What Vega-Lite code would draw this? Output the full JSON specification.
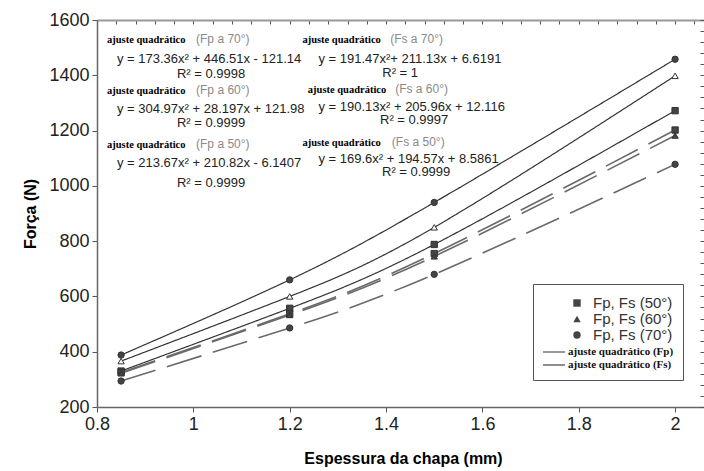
{
  "$schema": "https://vega.github.io/schema/vega-lite/v6.json",
  "width": 607,
  "height": 387,
  "autosize": {"type": "none"},
  "padding": {"left": 97, "top": 20, "right": 0, "bottom": 64},
  "background": "white",
  "config": {"view": {"stroke": null}, "font": "Liberation Sans"},
  "datasets": {
    "medidas": [
      {"espessura": 0.85, "forca": 388, "serie": "Fp 70°", "tipo": "ajuste quadrático (Fp)", "marca": "Fp, Fs  (70°)"},
      {"espessura": 1.2, "forca": 660, "serie": "Fp 70°", "tipo": "ajuste quadrático (Fp)", "marca": "Fp, Fs  (70°)"},
      {"espessura": 1.5, "forca": 940, "serie": "Fp 70°", "tipo": "ajuste quadrático (Fp)", "marca": "Fp, Fs  (70°)"},
      {"espessura": 2.0, "forca": 1458, "serie": "Fp 70°", "tipo": "ajuste quadrático (Fp)", "marca": "Fp, Fs  (70°)"},
      {"espessura": 0.85, "forca": 366, "serie": "Fp 60°", "tipo": "ajuste quadrático (Fp)", "marca": "Fp, Fs  (60°)"},
      {"espessura": 1.2, "forca": 600, "serie": "Fp 60°", "tipo": "ajuste quadrático (Fp)", "marca": "Fp, Fs  (60°)"},
      {"espessura": 1.5, "forca": 850, "serie": "Fp 60°", "tipo": "ajuste quadrático (Fp)", "marca": "Fp, Fs  (60°)"},
      {"espessura": 2.0, "forca": 1398, "serie": "Fp 60°", "tipo": "ajuste quadrático (Fp)", "marca": "Fp, Fs  (60°)"},
      {"espessura": 0.85, "forca": 330, "serie": "Fp 50°", "tipo": "ajuste quadrático (Fp)", "marca": "Fp, Fs  (50°)"},
      {"espessura": 1.2, "forca": 557, "serie": "Fp 50°", "tipo": "ajuste quadrático (Fp)", "marca": "Fp, Fs  (50°)"},
      {"espessura": 1.5, "forca": 788, "serie": "Fp 50°", "tipo": "ajuste quadrático (Fp)", "marca": "Fp, Fs  (50°)"},
      {"espessura": 2.0, "forca": 1272, "serie": "Fp 50°", "tipo": "ajuste quadrático (Fp)", "marca": "Fp, Fs  (50°)"},
      {"espessura": 0.85, "forca": 325, "serie": "Fs 50°", "tipo": "ajuste quadrático (Fs)", "marca": "Fp, Fs  (50°)"},
      {"espessura": 1.2, "forca": 537, "serie": "Fs 50°", "tipo": "ajuste quadrático (Fs)", "marca": "Fp, Fs  (50°)"},
      {"espessura": 1.5, "forca": 755, "serie": "Fs 50°", "tipo": "ajuste quadrático (Fs)", "marca": "Fp, Fs  (50°)"},
      {"espessura": 2.0, "forca": 1202, "serie": "Fs 50°", "tipo": "ajuste quadrático (Fs)", "marca": "Fp, Fs  (50°)"},
      {"espessura": 0.85, "forca": 322, "serie": "Fs 60°", "tipo": "ajuste quadrático (Fs)", "marca": "Fp, Fs  (60°)"},
      {"espessura": 1.2, "forca": 533, "serie": "Fs 60°", "tipo": "ajuste quadrático (Fs)", "marca": "Fp, Fs  (60°)"},
      {"espessura": 1.5, "forca": 745, "serie": "Fs 60°", "tipo": "ajuste quadrático (Fs)", "marca": "Fp, Fs  (60°)"},
      {"espessura": 2.0, "forca": 1182, "serie": "Fs 60°", "tipo": "ajuste quadrático (Fs)", "marca": "Fp, Fs  (60°)"},
      {"espessura": 0.85, "forca": 294, "serie": "Fs 70°", "tipo": "ajuste quadrático (Fs)", "marca": "Fp, Fs  (70°)"},
      {"espessura": 1.2, "forca": 486, "serie": "Fs 70°", "tipo": "ajuste quadrático (Fs)", "marca": "Fp, Fs  (70°)"},
      {"espessura": 1.5, "forca": 680, "serie": "Fs 70°", "tipo": "ajuste quadrático (Fs)", "marca": "Fp, Fs  (70°)"},
      {"espessura": 2.0, "forca": 1078, "serie": "Fs 70°", "tipo": "ajuste quadrático (Fs)", "marca": "Fp, Fs  (70°)"}
    ],
    "notas": [
      {"x": 0.8208, "y": 1516.8, "texto": "ajuste quadrático", "tipo": "cab"},
      {"x": 0.8208, "y": 1332.3, "texto": "ajuste quadrático", "tipo": "cab"},
      {"x": 0.8208, "y": 1137, "texto": "ajuste quadrático", "tipo": "cab"},
      {"x": 1.2264, "y": 1516.8, "texto": "ajuste quadrático", "tipo": "cab"},
      {"x": 1.2376, "y": 1335.8, "texto": "ajuste quadrático", "tipo": "cab"},
      {"x": 1.2264, "y": 1144.2, "texto": "ajuste quadrático", "tipo": "cab"},
      {"x": 1.0056, "y": 1516.8, "texto": "(Fp a  70°)", "tipo": "par"},
      {"x": 1.0056, "y": 1332.3, "texto": "(Fp a  60°)", "tipo": "par"},
      {"x": 1.0056, "y": 1137, "texto": "(Fp a  50°)", "tipo": "par"},
      {"x": 1.4085, "y": 1516.8, "texto": "(Fs a  70°)", "tipo": "par"},
      {"x": 1.4189, "y": 1335.8, "texto": "(Fs a  60°)", "tipo": "par"},
      {"x": 1.412, "y": 1144.2, "texto": "(Fs a  50°)", "tipo": "par"},
      {"x": 0.8415, "y": 1444.5, "texto": "y = 173.36x² + 446.51x - 121.14", "tipo": "eq"},
      {"x": 0.8415, "y": 1265, "texto": "y = 304.97x² + 28.197x + 121.98", "tipo": "eq"},
      {"x": 0.8415, "y": 1070, "texto": "y = 213.67x² + 210.82x - 6.1407", "tipo": "eq"},
      {"x": 1.2596, "y": 1444.5, "texto": "y = 191.47x²+ 211.13x + 6.6191", "tipo": "eq"},
      {"x": 1.2596, "y": 1270.6, "texto": "y = 190.13x² + 205.96x + 12.116", "tipo": "eq"},
      {"x": 1.2596, "y": 1082.7, "texto": "y = 169.6x² + 194.57x + 8.5861", "tipo": "eq"},
      {"x": 1.0368, "y": 1390, "texto": "R² = 0.9998", "tipo": "r2"},
      {"x": 1.0368, "y": 1213, "texto": "R² = 0.9999", "tipo": "r2"},
      {"x": 1.0368, "y": 996, "texto": "R² = 0.9999", "tipo": "r2"},
      {"x": 1.4293, "y": 1395, "texto": "R² = 1", "tipo": "r2"},
      {"x": 1.4583, "y": 1222, "texto": "R² = 0.9997", "tipo": "r2"},
      {"x": 1.4625, "y": 1034, "texto": "R² = 0.9999", "tipo": "r2"}
    ]
  },
  "layer": [
    {
      "data": {"name": "medidas"},
      "mark": {"type": "line", "interpolate": "natural"},
      "encoding": {
        "x": {
          "field": "espessura", "type": "quantitative",
          "scale": {"domain": [0.8, 2.06], "nice": false, "zero": false},
          "axis": {
            "title": "Espessura da chapa (mm)", "values": [0.8, 1, 1.2, 1.4, 1.6, 1.8, 2], "format": "~g",
            "grid": false, "labelFontSize": 18, "labelColor": "#222", "labelPadding": 3, "labelFlush": false,
            "tickSize": 5, "tickColor": "#555", "domainColor": "#666", "domainWidth": 1.5,
            "titleFontSize": 16, "titleFontWeight": "bold", "titleColor": "#000",
            "titleY": 51, "titleBaseline": "middle", "titleX": 306
          }
        },
        "y": {
          "field": "forca", "type": "quantitative",
          "scale": {"domain": [200, 1600], "nice": false, "zero": false},
          "axis": {
            "title": "Força (N)", "values": [200, 400, 600, 800, 1000, 1200, 1400, 1600], "format": "d",
            "grid": false, "labelFontSize": 18, "labelColor": "#222", "labelPadding": 3, "labelFlush": false,
            "tickSize": 5, "tickColor": "#555", "domainColor": "#666", "domainWidth": 1.5,
            "titleFontSize": 16, "titleFontWeight": "bold", "titleColor": "#000",
            "titleAngle": 270, "titleX": -67, "titleY": 193.5, "titleBaseline": "middle", "titleAlign": "center"
          }
        },
        "detail": {"field": "serie"},
        "stroke": {
          "field": "tipo", "type": "nominal",
          "scale": {"domain": ["ajuste quadrático (Fp)", "ajuste quadrático (Fs)"], "range": ["#333", "#6a6a6a"]},
          "legend": {
            "orient": "none", "legendX": 436, "legendY": 264,
            "title": [" ", " ", " ", " "], "titleFontSize": 12, "titleLineHeight": 12.5, "titlePadding": 4,
            "strokeColor": "#555", "padding": 9,
            "symbolType": "stroke", "symbolSize": 484, "symbolStrokeWidth": 1.2,
            "clipHeight": 11, "rowPadding": 1,
            "labelFont": "Liberation Serif", "labelFontWeight": "bold", "labelFontSize": 11, "labelColor": "#111", "labelOffset": 2, "labelLimit": 300
          }
        },
        "strokeDash": {"field": "tipo", "type": "nominal", "scale": {"domain": ["ajuste quadrático (Fp)", "ajuste quadrático (Fs)"], "range": [[1, 0], [36, 12]]}},
        "strokeWidth": {"field": "tipo", "type": "nominal", "scale": {"domain": ["ajuste quadrático (Fp)", "ajuste quadrático (Fs)"], "range": [1.2, 1.6]}}
      }
    },
    {
      "data": {"name": "medidas"},
      "mark": {"type": "point", "filled": true, "stroke": "#333", "strokeWidth": 1, "size": 40, "opacity": 1},
      "encoding": {
        "x": {
          "field": "espessura", "type": "quantitative",
          "axis": {
            "title": null, "labels": false, "domain": false, "grid": false, "tickSize": -4, "tickColor": "#555",
            "values": [0.8, 0.84, 0.88, 0.92, 0.96, 1.0, 1.04, 1.08, 1.12, 1.16, 1.2, 1.24, 1.28, 1.32, 1.36, 1.4, 1.44, 1.48, 1.52, 1.56, 1.6, 1.64, 1.68, 1.72, 1.76, 1.8, 1.84, 1.88, 1.92, 1.96, 2.0, 2.04]
          }
        },
        "y": {
          "field": "forca", "type": "quantitative",
          "axis": {
            "title": null, "labels": false, "domain": false, "grid": false, "tickSize": -4, "tickColor": "#555",
            "values": [200, 240, 280, 320, 360, 400, 440, 480, 520, 560, 600, 640, 680, 720, 760, 800, 840, 880, 920, 960, 1000, 1040, 1080, 1120, 1160, 1200, 1240, 1280, 1320, 1360, 1400, 1440, 1480, 1520, 1560, 1600]
          }
        },
        "shape": {
          "field": "marca", "type": "nominal",
          "scale": {
            "domain": ["Fp, Fs  (50°)", "Fp, Fs  (60°)", "Fp, Fs  (70°)"],
            "range": ["square", "triangle-up", "circle"]
          },
          "legend": {
            "orient": "none", "legendX": 472.5, "legendY": 275.5, "title": null, "padding": 0,
            "labelFont": "Liberation Sans", "labelFontSize": 15, "labelColor": "#333", "labelOffset": 8.5,
            "symbolSize": 55, "rowPadding": 0, "labelLimit": 300,
            "symbolFillColor": "#444", "symbolStrokeColor": "#333", "symbolStrokeWidth": 1
          }
        },
        "fill": {"condition": {"test": "datum.serie == 'Fp 60°'", "value": "white"}, "value": "#444"}
      }
    },
    {
      "data": {"name": "notas"},
      "transform": [{"filter": "datum.tipo == 'cab'"}],
      "mark": {"type": "text", "align": "left", "baseline": "alphabetic", "font": "Liberation Serif", "fontWeight": "bold", "fontSize": 10.5, "color": "#000"},
      "encoding": {
        "x": {"field": "x", "type": "quantitative", "axis": {"orient": "top", "title": null, "labels": false, "ticks": false, "grid": false, "domain": true, "domainColor": "#999", "domainWidth": 2}},
        "y": {"field": "y", "type": "quantitative", "axis": null},
        "text": {"field": "texto"}
      }
    },
    {
      "data": {"name": "notas"},
      "transform": [{"filter": "datum.tipo == 'par'"}],
      "mark": {"type": "text", "align": "left", "baseline": "alphabetic", "font": "Liberation Sans", "fontSize": 12, "color": "#8a8a8a"},
      "encoding": {
        "x": {"field": "x", "type": "quantitative", "axis": null},
        "y": {"field": "y", "type": "quantitative", "axis": null},
        "text": {"field": "texto"}
      }
    },
    {
      "data": {"name": "notas"},
      "transform": [{"filter": "datum.tipo == 'eq'"}],
      "mark": {"type": "text", "align": "left", "baseline": "alphabetic", "font": "Liberation Sans", "fontSize": 13, "color": "#222"},
      "encoding": {
        "x": {"field": "x", "type": "quantitative", "axis": null},
        "y": {"field": "y", "type": "quantitative", "axis": null},
        "text": {"field": "texto"}
      }
    },
    {
      "data": {"name": "notas"},
      "transform": [{"filter": "datum.tipo == 'r2'"}],
      "mark": {"type": "text", "align": "center", "baseline": "alphabetic", "font": "Liberation Sans", "fontSize": 13, "color": "#222"},
      "encoding": {
        "x": {"field": "x", "type": "quantitative", "axis": null},
        "y": {"field": "y", "type": "quantitative", "axis": null},
        "text": {"field": "texto"}
      }
    }
  ],
  "resolve": {"axis": {"x": "independent", "y": "independent"}}
}
